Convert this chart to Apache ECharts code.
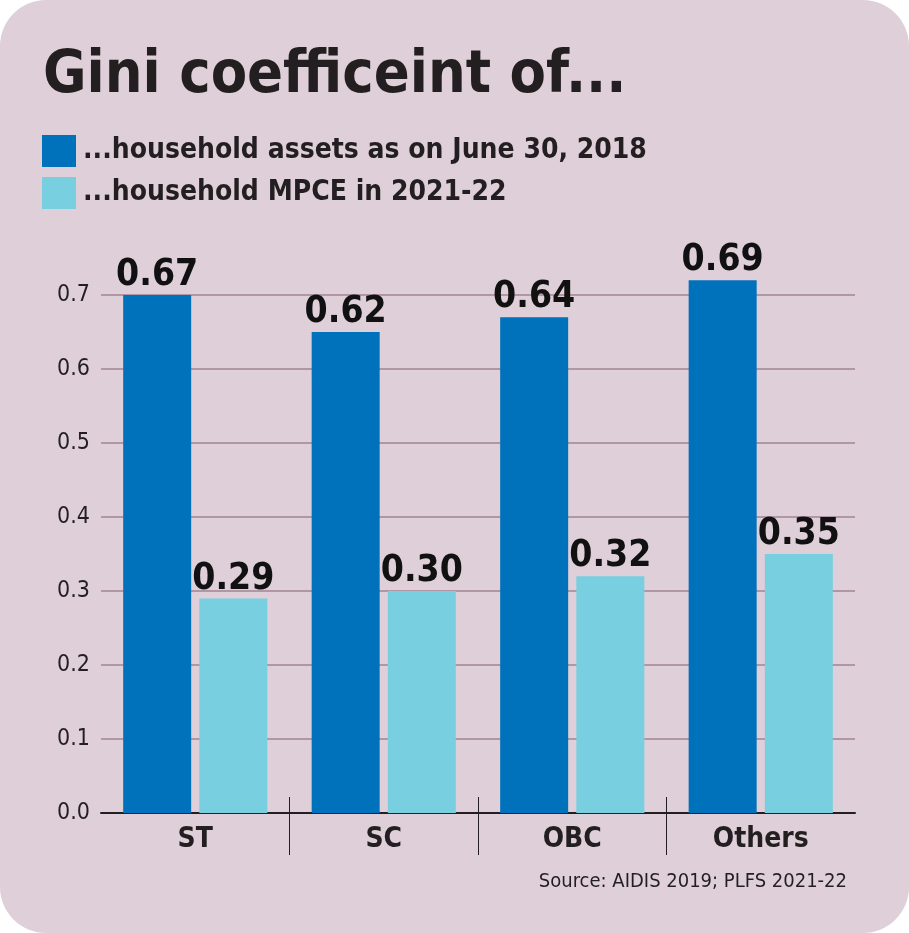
<!DOCTYPE html>
<html lang="en">
<head>
    <meta charset="UTF-8">
    <title>Gini coefficient</title>
    <script src="https://cdn.jsdelivr.net/npm/echarts@6/dist/echarts.min.js"></script>
    <style>
        html, body { margin: 0; padding: 0; background: #ffffff; }
        #main {
            width: 909px;
            height: 933px;
            background: #dfcfd9;
            border-radius: 46px;
            overflow: hidden;
        }
    </style>
</head>
<body>
    <div id="main"></div>
    <script>
        // data
        var categories = ['ST', 'SC', 'OBC', 'Others'];
        var assetsBars = [0.70, 0.65, 0.67, 0.72];      // drawn heights
        var assetsLabels = ['0.67', '0.62', '0.64', '0.69']; // printed values
        var mpceBars = [0.29, 0.30, 0.32, 0.35];
        var mpceLabels = ['0.29', '0.30', '0.32', '0.35'];
        var seriesNames = ['...household assets as on June 30, 2018', '...household MPCE in 2021-22'];

        var FONT = "'DejaVu Sans Condensed', 'Liberation Sans Narrow', 'Roboto', sans-serif";
        var DARK = '#0071bb';
        var LIGHT = '#77cfdf';

        var myChart = echarts.init(document.getElementById('main'));
        var option = {
            backgroundColor: 'transparent',
            animation: false,
            textStyle: { fontFamily: FONT },
            title: {
                text: 'Gini coefficeint of...',
                left: 38,
                top: 42,
                textStyle: { fontFamily: FONT, fontSize: 59, fontWeight: 'bold', color: '#231f20' }
            },
            legend: {
                orient: 'vertical',
                left: 42,
                top: 135,
                padding: 0,
                itemWidth: 34,
                itemHeight: 32,
                itemGap: 10,
                icon: 'rect',
                textStyle: { fontFamily: FONT, fontSize: 28, fontWeight: 'bold', color: '#231f20', padding: [0, 0, 0, 2] },
                data: seriesNames
            },
            grid: [
                { left: 101, right: 54, top: 295, bottom: 120 },
                { left: 101, right: 54, top: 797, height: 58 }
            ],
            xAxis: [{
                type: 'category',
                gridIndex: 0,
                data: categories,
                axisLine: { lineStyle: { color: '#231f20', width: 2 } },
                axisTick: { show: false },
                axisLabel: { fontFamily: FONT, fontSize: 28, fontWeight: 'bold', color: '#231f20', margin: 13 }
            }, {
                type: 'category',
                gridIndex: 1,
                data: categories,
                axisLine: { show: false },
                axisTick: { show: false },
                axisLabel: { show: false },
                splitLine: { show: true, showMinLine: false, showMaxLine: false, lineStyle: { color: '#231f20', width: 1 } }
            }],
            yAxis: [{
                type: 'value',
                gridIndex: 0,
                min: 0,
                max: 0.7,
                interval: 0.1,
                axisLine: { show: false },
                axisTick: { show: false },
                axisLabel: {
                    fontFamily: FONT, fontSize: 23, color: '#231f20', margin: 11,
                    formatter: function (v) { return v.toFixed(1); }
                },
                splitLine: { lineStyle: { color: '#b196a6', width: 2 } }
            }, {
                type: 'value',
                gridIndex: 1,
                show: false
            }],
            series: [{
                name: seriesNames[0],
                type: 'bar',
                clip: false,
                barWidth: 68,
                barGap: '12%',
                itemStyle: { color: DARK },
                label: {
                    show: true, position: 'top', distance: 1,
                    fontFamily: FONT, fontSize: 37, fontWeight: 'bold', color: '#111111',
                    formatter: function (p) { return assetsLabels[p.dataIndex]; }
                },
                data: assetsBars
            }, {
                name: seriesNames[1],
                type: 'bar',
                clip: false,
                barWidth: 68,
                itemStyle: { color: LIGHT },
                label: {
                    show: true, position: 'top', distance: 1,
                    fontFamily: FONT, fontSize: 37, fontWeight: 'bold', color: '#111111',
                    formatter: function (p) { return mpceLabels[p.dataIndex]; }
                },
                data: mpceBars
            }],
            graphic: [{
                type: 'text',
                right: 62,
                top: 872,
                style: { text: 'Source: AIDIS 2019; PLFS 2021-22', font: '20px ' + FONT, fill: '#231f20' }
            }]
        };
        myChart.setOption(option);
    </script>
</body>
</html>
